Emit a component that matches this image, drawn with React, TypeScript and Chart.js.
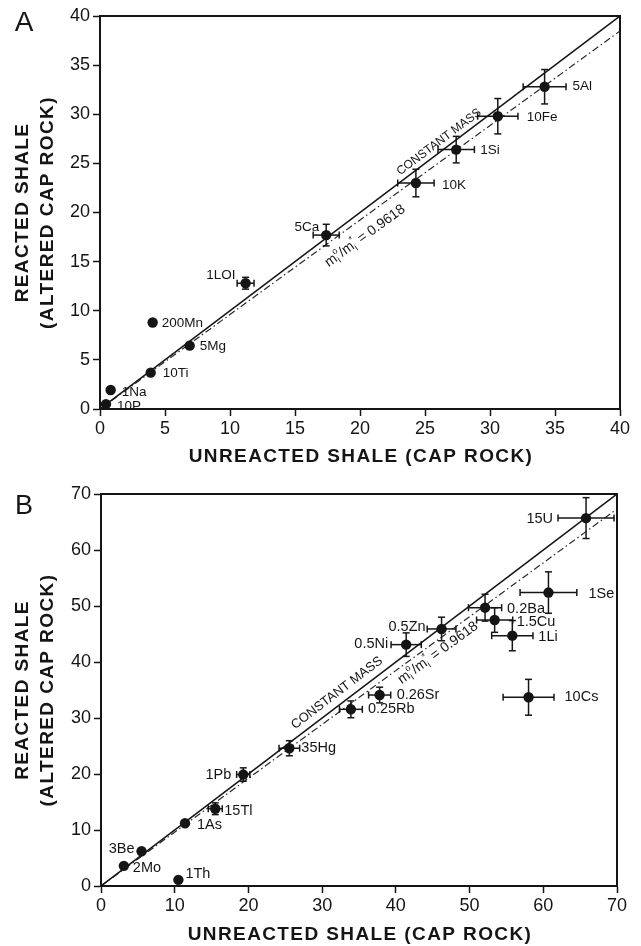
import React, { useEffect, useRef } from "react";
import { Chart, registerables } from "chart.js";

Chart.register(...registerables);

const FONT = "'Liberation Sans', Arial, Helvetica, sans-serif";
const INK = "#151515";

// ---------- Panel A data ----------
const A_NAMES = ["5Al", "10Fe", "1Si", "10K", "5Ca", "1LOI", "200Mn", "5Mg", "10Ti", "1Na", "10P"];
const A_X = [34.2, 30.6, 27.4, 24.3, 17.4, 11.2, 4.05, 6.9, 3.9, 0.82, 0.46];
const A_Y = [32.8, 29.8, 26.4, 23.0, 17.7, 12.8, 8.8, 6.45, 3.7, 1.93, 0.5];
const A_XERR = [1.65, 1.55, 1.4, 1.4, 1.0, 0.65, 0, 0, 0, 0, 0];
const A_YERR = [1.75, 1.8, 1.35, 1.4, 1.1, 0.6, 0, 0, 0, 0, 0];
const A_TICKS = [0, 5, 10, 15, 20, 25, 30, 35, 40];

// ---------- Panel B data ----------
const B_NAMES = ["15U", "1Se", "0.2Ba", "1.5Cu", "1Li", "0.5Zn", "0.5Ni", "0.26Sr", "0.25Rb", "10Cs", "35Hg", "1Pb", "15Tl", "1As", "3Be", "2Mo", "1Th"];
const B_X = [65.8, 60.7, 52.1, 53.4, 55.8, 46.2, 41.4, 37.8, 33.9, 58.0, 25.55, 19.3, 15.5, 11.4, 5.5, 3.1, 10.5];
const B_Y = [65.7, 52.4, 49.7, 47.5, 44.7, 45.9, 43.1, 34.1, 31.55, 33.7, 24.6, 19.9, 13.8, 11.2, 6.2, 3.6, 1.1];
const B_XERR = [3.8, 3.85, 2.25, 2.45, 2.8, 1.95, 2.05, 1.5, 1.55, 3.45, 1.4, 0.9, 0.95, 0, 0, 0, 0];
const B_YERR = [3.65, 3.7, 2.4, 2.2, 2.7, 2.1, 2.1, 1.4, 1.5, 3.2, 1.35, 1.2, 1.05, 0, 0, 0, 0];
const B_TICKS = [0, 10, 20, 30, 40, 50, 60, 70];

// ---------- reference lines ----------
const CONSTANT_MASS_SLOPE = 1;
const ISOCON_SLOPE = 0.9618;
const ISOCON_TEXT = "0.9618";
const CONSTANT_MASS_TEXT = "CONSTANT MASS";

const X_TITLE = "UNREACTED SHALE (CAP ROCK)";
const Y_TITLE = ["REACTED SHALE", "(ALTERED CAP ROCK)"];

// label placement (pixel offsets from the marker, alignment) — layout only
type Al = "left" | "right";
const A_LABEL_POS: [number, number, Al][] = [
  [28, 0, "left"], [29, 1, "left"], [24, 1, "left"], [26, 2, "left"], [-7, -8, "right"],
  [-10, -8, "right"], [9, 1, "left"], [10, 1, "left"], [12, 1, "left"], [11, 2, "left"], [11, 2, "left"],
];
const B_LABEL_POS: [number, number, Al][] = [
  [-33, 1, "right"], [40, 1, "left"], [22, 1, "left"], [22, 2, "left"], [26, 1, "left"],
  [-16, -2, "right"], [-18, -1, "right"], [17, 0, "left"], [17, 0, "left"], [36, 0, "left"],
  [12, 0, "left"], [-12, 0, "right"], [9, 2, "left"], [12, 2, "left"], [-7, -2, "right"],
  [9, 2, "left"], [7, -6, "left"],
];

type Panel = {
  letter: string;
  names: string[];
  xs: number[];
  ys: number[];
  xerr: number[];
  yerr: number[];
  ticks: number[];
  labelPos: [number, number, Al][];
  top: number;
  height: number;
  padTop: number;
  padRight: number;
  yWidth: number;
  xHeight: number;
  xTitleY: number;
  letterY: number;
  letterSize: number;
  labelSize: number;
  cmSize: number;
  cm: [number, number];
  iso: [number, number];
};

const PANELS: Panel[] = [
  {
    letter: "A", names: A_NAMES, xs: A_X, ys: A_Y, xerr: A_XERR, yerr: A_YERR, ticks: A_TICKS,
    labelPos: A_LABEL_POS, top: 0, height: 470, padTop: 16, padRight: 21, yWidth: 100, xHeight: 61,
    xTitleY: 457, letterY: 23, letterSize: 28, labelSize: 13.5, cmSize: 12, cm: [26.48, 8.6], iso: [19.67, -15.9],
  },
  {
    letter: "B", names: B_NAMES, xs: B_X, ys: B_Y, xerr: B_XERR, yerr: B_YERR, ticks: B_TICKS,
    labelPos: B_LABEL_POS, top: 470, height: 476, padTop: 24, padRight: 24, yWidth: 101, xHeight: 60,
    xTitleY: 465, letterY: 37, letterSize: 27, labelSize: 14.5, cmSize: 13, cm: [32.9, 10.9], iso: [44.87, -10.6],
  },
];

function lineAnchor(chart: any, slope: number, t: number, d: number) {
  const xs = chart.scales.x, ys = chart.scales.y;
  const x0 = xs.getPixelForValue(0), y0 = ys.getPixelForValue(0);
  const x1 = xs.getPixelForValue(t), y1 = ys.getPixelForValue(slope * t);
  const ang = Math.atan2(y1 - y0, x1 - x0);
  const ux = Math.cos(ang), uy = Math.sin(ang);
  return { x: x1 + d * uy, y: y1 - d * ux, ang };
}

function drawRatio(ctx: CanvasRenderingContext2D, size: number) {
  const small = Math.round(size * 0.64);
  const big = `${size}px ${FONT}`;
  const sm = `${small}px ${FONT}`;
  const parts: any[] = [
    { s: "m" }, { sup: "o", sub: "i" }, { s: "/" }, { s: "m" }, { sup: "*", sub: "i" }, { s: " = " + ISOCON_TEXT },
  ];
  const widths = parts.map((p) => {
    if (p.s !== undefined) { ctx.font = big; return ctx.measureText(p.s).width; }
    ctx.font = sm;
    return Math.max(ctx.measureText(p.sup).width, ctx.measureText(p.sub).width) + 0.5;
  });
  const total = widths.reduce((a, b) => a + b, 0);
  let x = -total / 2;
  ctx.textAlign = "left";
  ctx.textBaseline = "middle";
  parts.forEach((p, i) => {
    if (p.s !== undefined) {
      ctx.font = big;
      ctx.fillText(p.s, x, 0);
    } else {
      ctx.font = sm;
      ctx.fillText(p.sup, x, -size * 0.38);
      ctx.fillText(p.sub, x, size * 0.32);
    }
    x += widths[i];
  });
}

function makePlugin(p: Panel) {
  return {
    id: "overlay" + p.letter,
    afterDatasetsDraw(chart: any) {
      const ctx: CanvasRenderingContext2D = chart.ctx;
      const xs = chart.scales.x, ys = chart.scales.y;
      const cap = 3.5;
      ctx.save();
      ctx.strokeStyle = INK;
      ctx.lineWidth = 1.5;
      const seg = (a: number, b: number, c: number, d: number) => {
        ctx.beginPath(); ctx.moveTo(a, b); ctx.lineTo(c, d); ctx.stroke();
      };
      p.xs.forEach((xv, i) => {
        const px = xs.getPixelForValue(xv), py = ys.getPixelForValue(p.ys[i]);
        const ex = p.xerr[i], ey = p.yerr[i];
        if (ex > 0) {
          const x0 = xs.getPixelForValue(xv - ex), x1 = xs.getPixelForValue(xv + ex);
          seg(x0, py, x1, py); seg(x0, py - cap, x0, py + cap); seg(x1, py - cap, x1, py + cap);
        }
        if (ey > 0) {
          const y0 = ys.getPixelForValue(p.ys[i] - ey), y1 = ys.getPixelForValue(p.ys[i] + ey);
          seg(px, y0, px, y1); seg(px - cap, y0, px + cap, y0); seg(px - cap, y1, px + cap, y1);
        }
      });
      // point labels
      ctx.fillStyle = INK;
      ctx.font = `${p.labelSize}px ${FONT}`;
      ctx.textBaseline = "middle";
      p.names.forEach((n, i) => {
        const px = xs.getPixelForValue(p.xs[i]), py = ys.getPixelForValue(p.ys[i]);
        const [dx, dy, al] = p.labelPos[i];
        ctx.textAlign = al;
        ctx.fillText(n, px + dx, py + dy);
      });
      // line annotations
      const a1 = lineAnchor(chart, CONSTANT_MASS_SLOPE, p.cm[0], p.cm[1]);
      ctx.save();
      ctx.translate(a1.x, a1.y);
      ctx.rotate(a1.ang);
      ctx.font = `${p.cmSize}px ${FONT}`;
      ctx.textAlign = "center";
      ctx.fillText(CONSTANT_MASS_TEXT, 0, 0);
      ctx.restore();
      const a2 = lineAnchor(chart, ISOCON_SLOPE, p.iso[0], p.iso[1]);
      ctx.save();
      ctx.translate(a2.x, a2.y);
      ctx.rotate(a2.ang);
      drawRatio(ctx, 14);
      ctx.restore();
      ctx.restore();
    },
    afterDraw(chart: any) {
      const ctx: CanvasRenderingContext2D = chart.ctx;
      const ca = chart.chartArea;
      ctx.save();
      // frame top + right
      ctx.strokeStyle = INK;
      ctx.lineWidth = 2;
      ctx.beginPath();
      ctx.moveTo(ca.left, ca.top);
      ctx.lineTo(ca.right, ca.top);
      ctx.lineTo(ca.right, ca.bottom);
      ctx.stroke();
      // axis titles
      ctx.fillStyle = INK;
      ctx.font = `bold 19px ${FONT}`;
      (ctx as any).letterSpacing = "1.4px";
      ctx.textAlign = "center";
      ctx.textBaseline = "middle";
      ctx.fillText(X_TITLE, (ca.left + ca.right) / 2 + 1, p.xTitleY);
      ctx.save();
      ctx.translate(23, (ca.top + ca.bottom) / 2);
      ctx.rotate(-Math.PI / 2);
      Y_TITLE.forEach((t, i) => ctx.fillText(t, 0, i * 25));
      ctx.restore();
      (ctx as any).letterSpacing = "0px";
      // panel letter
      ctx.font = `${p.letterSize}px ${FONT}`;
      ctx.fillText(p.letter, 24, p.letterY);
      ctx.restore();
    },
  };
}

function PanelChart({ p }: { p: Panel }) {
  const ref = useRef<HTMLCanvasElement | null>(null);
  useEffect(() => {
    if (!ref.current) return;
    const lo = p.ticks[0], hi = p.ticks[p.ticks.length - 1];
    const step = p.ticks[1] - p.ticks[0];
    const axis = (isX: boolean) => ({
      type: "linear" as const,
      min: lo,
      max: hi,
      ticks: {
        stepSize: step,
        color: INK,
        padding: isX ? 2 : 3,
        font: { size: 18, family: FONT },
        autoSkip: false,
        maxRotation: 0,
      },
      grid: { display: true, drawOnChartArea: false, drawTicks: true, tickLength: 7, tickWidth: 1.5, tickColor: INK },
      border: { display: true, width: 2, color: INK },
      afterFit: (s: any) => {
        if (isX) s.height = p.xHeight; else s.width = p.yWidth;
      },
    });
    const chart = new Chart(ref.current, {
      type: "scatter",
      data: {
        datasets: [
          {
            data: p.xs.map((x, i) => ({ x, y: p.ys[i] })),
            backgroundColor: INK,
            borderColor: INK,
            pointRadius: 5.2,
            pointBorderWidth: 0,
            clip: false as any,
          },
          {
            data: [{ x: lo, y: CONSTANT_MASS_SLOPE * lo }, { x: hi, y: CONSTANT_MASS_SLOPE * hi }],
            showLine: true,
            pointRadius: 0,
            borderColor: INK,
            borderWidth: 1.5,
          },
          {
            data: [{ x: lo, y: ISOCON_SLOPE * lo }, { x: hi, y: ISOCON_SLOPE * hi }],
            showLine: true,
            pointRadius: 0,
            borderColor: "#2a2a2a",
            borderWidth: 1.2,
            borderDash: [7, 3, 1.5, 3],
          },
        ],
      },
      options: {
        animation: false,
        responsive: false,
        events: [],
        layout: { padding: { top: p.padTop, right: p.padRight, left: 0, bottom: 0 } },
        plugins: { legend: { display: false }, tooltip: { enabled: false } },
        scales: { x: axis(true), y: axis(false) } as any,
      },
      plugins: [makePlugin(p)],
    });
    return () => chart.destroy();
  }, [p]);
  return (
    <canvas
      ref={ref}
      width={641}
      height={p.height}
      style={{ position: "absolute", left: 0, top: p.top, width: 641, height: p.height }}
    />
  );
}

export default function App() {
  return (
    <div style={{ position: "absolute", left: 0, top: 0, width: 641, height: 946, background: "#fff" }}>
      {PANELS.map((p) => (
        <PanelChart key={p.letter} p={p} />
      ))}
    </div>
  );
}
